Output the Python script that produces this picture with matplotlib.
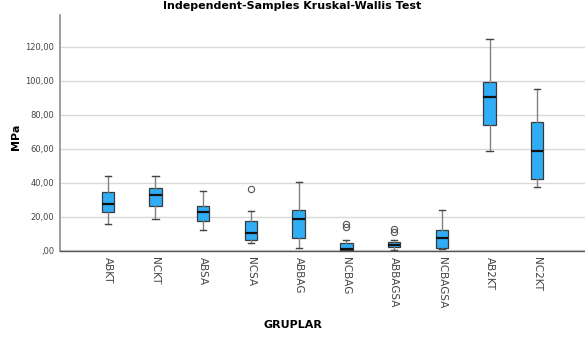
import matplotlib
matplotlib.use("Agg")
import matplotlib.pyplot as plt

groups = ["ABKT", "NCKT", "ABSA", "NCSA", "ABBAG", "NCBAG",
          "ABBAGSA", "NCBAGSA", "AB2KT", "NC2KT"]
whislo = [15.5, 18.8, 11.8, 4.3, 1.2, 0.0, 0.4, 0.8, 58.6, 37.3]
q1     = [22.6, 25.9, 17.3, 6.1, 7.6, 0.2, 1.8, 1.4, 73.8, 42.0]
med    = [27.5, 32.4, 22.4, 10.2, 18.6, 0.8, 3.2, 7.5, 90.2, 58.8]
q3     = [34.3, 37.0, 25.9, 17.5, 23.8, 4.5, 4.9, 12.2, 99.1, 75.5]
whishi = [43.8, 44.1, 35.3, 23.0, 40.4, 6.3, 6.3, 23.8, 124.2, 94.9]
outliers = [[], [], [], [35.9], [], [15.7, 13.8], [12.9, 10.6], [], [], []]

stats = []
for i, g in enumerate(groups):
    stats.append(dict(label=g, whislo=whislo[i], q1=q1[i], med=med[i],
                      q3=q3[i], whishi=whishi[i], fliers=outliers[i]))

fig = plt.figure(figsize=(5.85, 3.42), dpi=100)
ax = fig.add_axes([60/585, 1-251/342, 525/585, 236/342])

ax.bxp(stats, positions=range(1, 11), widths=0.26, patch_artist=True,
       boxprops=dict(facecolor="#30adf5", edgecolor="#3a3a3a", linewidth=0.9),
       medianprops=dict(color="#111111", linewidth=1.6),
       whiskerprops=dict(color="#808080", linewidth=1.0),
       capprops=dict(color="#444444", linewidth=1.0),
       capwidths=0.13,
       flierprops=dict(marker="o", markersize=4.5, markerfacecolor="none",
                       markeredgecolor="#555555", markeredgewidth=0.8),
       zorder=3)

ax.set_xlim(0, 11)
ax.set_ylim(-0.3, 138.6)
ax.set_yticks([0, 20, 40, 60, 80, 100, 120])
ax.set_yticklabels([",00", "20,00", "40,00", "60,00", "80,00", "100,00", "120,00"],
                   fontsize=6, color="#444444")
ax.set_xticks(range(1, 11))
ax.set_xticklabels(groups, rotation=270, fontsize=7.5, color="#444444",
                   va="top", ha="center")
ax.tick_params(axis="both", length=0, pad=4)
ax.yaxis.grid(True, color="#d9d9d9", linewidth=1.0, zorder=0)
ax.set_axisbelow(True)

for s in ["top", "right"]:
    ax.spines[s].set_visible(False)
ax.spines["left"].set_color("#8c8c8c")
ax.spines["left"].set_linewidth(1.2)
ax.spines["bottom"].set_color("#555555")
ax.spines["bottom"].set_linewidth(1.0)

fig.text(16/585, 1-137/342, "MPa", fontsize=8, fontweight="bold",
         rotation=90, ha="center", va="center")
fig.text(0.5, 1-325/342, "GRUPLAR", fontsize=8, fontweight="bold",
         ha="center", va="center")
fig.text(292/585, 1-6/342, "Independent-Samples Kruskal-Wallis Test",
         fontsize=8, fontweight="bold", ha="center", va="center")

fig.savefig("out.png", dpi=100)
